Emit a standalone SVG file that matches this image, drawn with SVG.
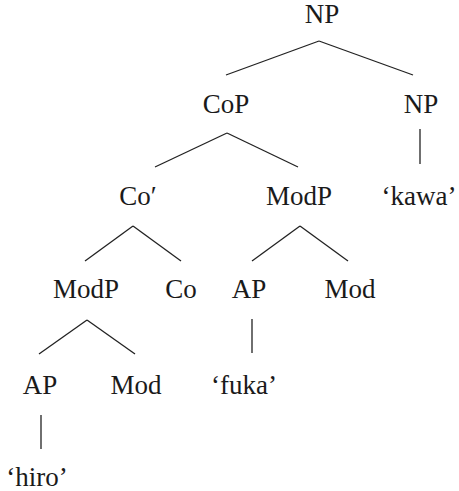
<svg xmlns="http://www.w3.org/2000/svg" width="459" height="491" viewBox="0 0 459 491">
<style>
text{font-family:"Liberation Serif","Times New Roman",serif;font-size:27px;fill:#1a1a1a;text-anchor:middle}
.e{stroke:#222;stroke-width:1.3;fill:none}
</style>
<rect width="459" height="491" fill="#fff"/>
<g id="edges">
<line class="e" x1="319" y1="41" x2="226" y2="75"/>
<line class="e" x1="319" y1="41" x2="413" y2="75"/>
<line class="e" x1="227" y1="133" x2="155" y2="167"/>
<line class="e" x1="227" y1="133" x2="298" y2="167"/>
<line class="e" x1="420" y1="129" x2="420" y2="164"/>
<line class="e" x1="133" y1="226" x2="85" y2="261"/>
<line class="e" x1="133" y1="226" x2="181" y2="261"/>
<line class="e" x1="300" y1="226" x2="252" y2="261"/>
<line class="e" x1="300" y1="226" x2="348" y2="261"/>
<line class="e" x1="87" y1="320" x2="39" y2="354"/>
<line class="e" x1="87" y1="320" x2="135" y2="354"/>
<line class="e" x1="252" y1="319" x2="252" y2="353"/>
<line class="e" x1="41" y1="415" x2="41" y2="449"/>
</g>
<g id="n-np"><text x="322" y="23">NP</text></g>
<g id="n-cop"><text x="226" y="113">CoP</text></g>
<g id="n-np2"><text x="421" y="113">NP</text></g>
<g id="n-cobar"><text x="138" y="205">Co′</text></g>
<g id="n-modp1"><text x="299" y="205">ModP</text></g>
<g id="n-kawa"><text x="419" y="205">‘kawa’</text></g>
<g id="n-modp2"><text x="86" y="298">ModP</text></g>
<g id="n-co"><text x="181" y="298">Co</text></g>
<g id="n-ap1"><text x="249" y="298">AP</text></g>
<g id="n-mod1"><text x="350" y="298">Mod</text></g>
<g id="n-ap2"><text x="40" y="394">AP</text></g>
<g id="n-mod2"><text x="136" y="394">Mod</text></g>
<g id="n-fuka"><text x="244" y="394">‘fuka’</text></g>
<g id="n-hiro"><text x="37" y="486">‘hiro’</text></g>
</svg>
